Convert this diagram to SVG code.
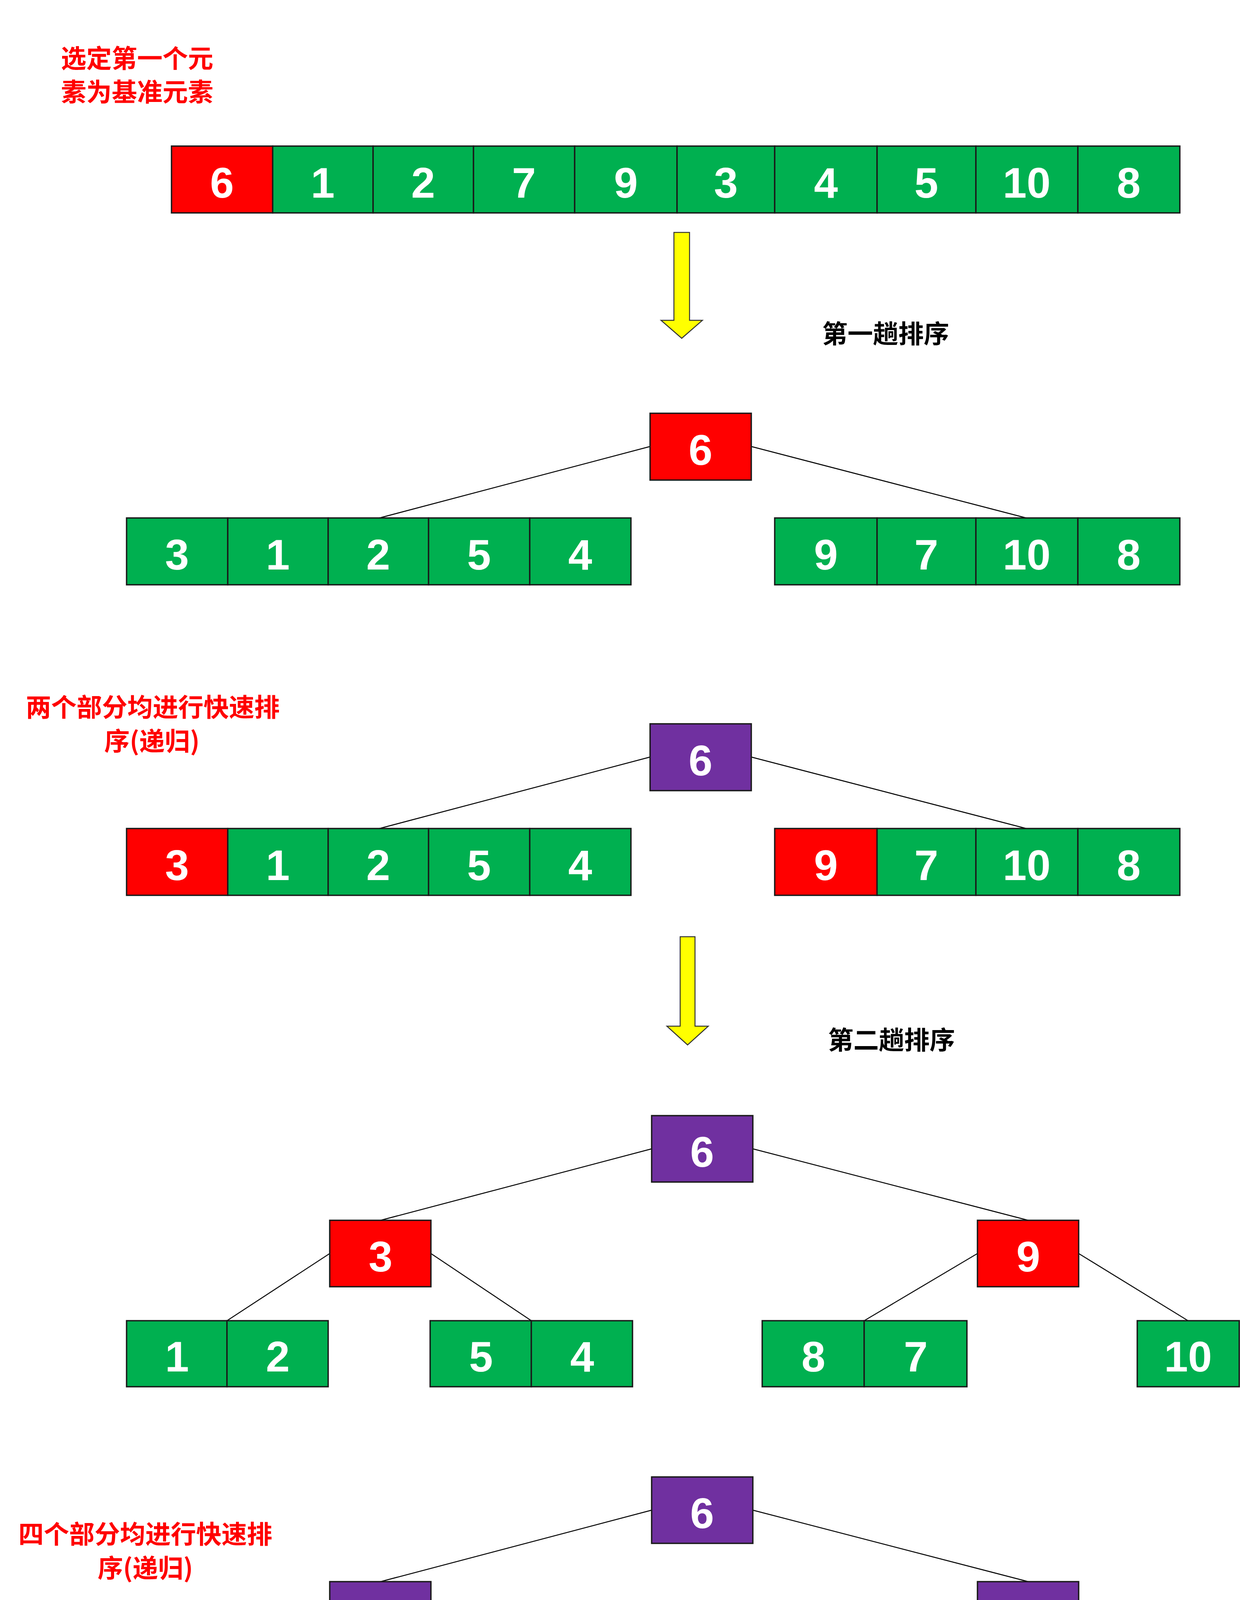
<svg xmlns="http://www.w3.org/2000/svg" width="3174" height="6900" viewBox="0 0 3174 6900">
<style>
.cell rect{stroke:#1a1a1a;stroke-width:3.5}
.r{fill:#FF0000}.g{fill:#00B050}.p{fill:#7030A0}
.n{font-family:"Liberation Sans",Arial,sans-serif;font-weight:bold;font-size:110px;fill:#fff;text-anchor:middle}
.lbl{font-family:"Noto Sans CJK SC","Noto Sans",sans-serif;font-weight:bold;font-size:65px;text-anchor:middle}
.red{fill:#FF0000}.blk{fill:#000}
.conn path{stroke:#000;stroke-width:2.5;fill:none}
.arrow{fill:#FFFF00;stroke:#333;stroke-width:2.5}
</style>

<g id="labels">
<text class="lbl red" x="351" y="173">选定第一个元</text>
<text class="lbl red" x="351" y="259">素为基准元素</text>
<text class="lbl blk" x="2267" y="878">第一趟排序</text>
<text class="lbl red" x="391" y="1834">两个部分均进行快速排</text>
<text class="lbl red" x="389" y="1921">序(递归)</text>
<text class="lbl blk" x="2282" y="2686">第二趟排序</text>
<text class="lbl red" x="372" y="3951">四个部分均进行快速排</text>
<text class="lbl red" x="372" y="4038">序(递归)</text>
<text class="lbl blk" x="2190" y="4824">第三趟排序</text>
<text class="lbl blk" x="2189" y="6134">完成</text>
</g>

<g id="arrows">
<path class="arrow" d="M1725 595 H1765 V820 H1798 L1745 866 L1692 820 H1725 Z"/>
<path class="arrow" d="M1741 2398 H1779 V2627 H1813 L1760 2675 L1707 2627 H1741 Z"/>
<path class="arrow" d="M1741 4656 H1779 V4879 H1813 L1760 4926 L1707 4879 H1741 Z"/>
<path class="arrow" d="M1741 5967 H1779 V6192 H1813 L1760 6237 L1707 6192 H1741 Z"/>
</g>

<g class="conn" id="connectors">
<path d="M1664 1143 L971 1326"/>
<path d="M1923 1143 L2627 1326"/>
<path d="M1664 1938 L971 2121"/>
<path d="M1923 1938 L2627 2121"/>
<path d="M1668 2941 L974 3124"/>
<path d="M1927 2941 L2632 3124"/>
<path d="M844 3209 L581 3381"/>
<path d="M1103 3209 L1360 3381"/>
<path d="M2502 3209 L2212 3381"/>
<path d="M2761 3209 L3041 3381"/>
<path d="M1668 3866 L974 4049"/>
<path d="M1927 3866 L2632 4049"/>
<path d="M844 4134 L581 4304"/>
<path d="M1103 4134 L1360 4304"/>
<path d="M2502 4134 L2212 4304"/>
<path d="M2761 4134 L3041 4304"/>
<path d="M1668 5141 L974 5323"/>
<path d="M1927 5141 L2632 5323"/>
<path d="M844 5409 L581 5580"/>
<path d="M1103 5409 L1360 5580"/>
<path d="M2502 5409 L2212 5580"/>
<path d="M2761 5409 L3041 5580"/>
</g>

<g class="cell">
<!-- Row 0 -->
<g id="a0">
<g id="a0c0"><rect class="r" x="439" y="374" width="259" height="171"/><text class="n" x="568" y="506">6</text></g>
<g id="a0c1"><rect class="g" x="698" y="374" width="257" height="171"/><text class="n" x="826" y="506">1</text></g>
<g id="a0c2"><rect class="g" x="955" y="374" width="257" height="171"/><text class="n" x="1083" y="506">2</text></g>
<g id="a0c3"><rect class="g" x="1212" y="374" width="259" height="171"/><text class="n" x="1341" y="506">7</text></g>
<g id="a0c4"><rect class="g" x="1471" y="374" width="262" height="171"/><text class="n" x="1602" y="506">9</text></g>
<g id="a0c5"><rect class="g" x="1733" y="374" width="250" height="171"/><text class="n" x="1858" y="506">3</text></g>
<g id="a0c6"><rect class="g" x="1983" y="374" width="262" height="171"/><text class="n" x="2114" y="506">4</text></g>
<g id="a0c7"><rect class="g" x="2245" y="374" width="253" height="171"/><text class="n" x="2371" y="506">5</text></g>
<g id="a0c8"><rect class="g" x="2498" y="374" width="261" height="171"/><text class="n" x="2628" y="506">10</text></g>
<g id="a0c9"><rect class="g" x="2759" y="374" width="261" height="171"/><text class="n" x="2889" y="506">8</text></g>
</g>

<!-- Tree 1 -->
<g id="t1root"><rect class="r" x="1664" y="1058" width="259" height="171"/><text class="n" x="1793" y="1190">6</text></g>
<g id="t1L">
<g id="t1L0"><rect class="g" x="324" y="1326" width="259" height="171"/><text class="n" x="453" y="1458">3</text></g>
<g id="t1L1"><rect class="g" x="583" y="1326" width="257" height="171"/><text class="n" x="711" y="1458">1</text></g>
<g id="t1L2"><rect class="g" x="840" y="1326" width="257" height="171"/><text class="n" x="968" y="1458">2</text></g>
<g id="t1L3"><rect class="g" x="1097" y="1326" width="259" height="171"/><text class="n" x="1226" y="1458">5</text></g>
<g id="t1L4"><rect class="g" x="1356" y="1326" width="259" height="171"/><text class="n" x="1485" y="1458">4</text></g>
</g>
<g id="t1R">
<g id="t1R0"><rect class="g" x="1983" y="1326" width="262" height="171"/><text class="n" x="2114" y="1458">9</text></g>
<g id="t1R1"><rect class="g" x="2245" y="1326" width="253" height="171"/><text class="n" x="2371" y="1458">7</text></g>
<g id="t1R2"><rect class="g" x="2498" y="1326" width="261" height="171"/><text class="n" x="2628" y="1458">10</text></g>
<g id="t1R3"><rect class="g" x="2759" y="1326" width="261" height="171"/><text class="n" x="2889" y="1458">8</text></g>
</g>

<!-- Tree 1b -->
<g id="t1broot"><rect class="p" x="1664" y="1853" width="259" height="171"/><text class="n" x="1793" y="1985">6</text></g>
<g id="t1bL">
<g id="t1bL0"><rect class="r" x="324" y="2121" width="259" height="171"/><text class="n" x="453" y="2253">3</text></g>
<g id="t1bL1"><rect class="g" x="583" y="2121" width="257" height="171"/><text class="n" x="711" y="2253">1</text></g>
<g id="t1bL2"><rect class="g" x="840" y="2121" width="257" height="171"/><text class="n" x="968" y="2253">2</text></g>
<g id="t1bL3"><rect class="g" x="1097" y="2121" width="259" height="171"/><text class="n" x="1226" y="2253">5</text></g>
<g id="t1bL4"><rect class="g" x="1356" y="2121" width="259" height="171"/><text class="n" x="1485" y="2253">4</text></g>
</g>
<g id="t1bR">
<g id="t1bR0"><rect class="r" x="1983" y="2121" width="262" height="171"/><text class="n" x="2114" y="2253">9</text></g>
<g id="t1bR1"><rect class="g" x="2245" y="2121" width="253" height="171"/><text class="n" x="2371" y="2253">7</text></g>
<g id="t1bR2"><rect class="g" x="2498" y="2121" width="261" height="171"/><text class="n" x="2628" y="2253">10</text></g>
<g id="t1bR3"><rect class="g" x="2759" y="2121" width="261" height="171"/><text class="n" x="2889" y="2253">8</text></g>
</g>

<!-- Tree 2 -->
<g id="t2root"><rect class="p" x="1668" y="2856" width="259" height="170"/><text class="n" x="1797" y="2987">6</text></g>
<g id="t2m3"><rect class="r" x="844" y="3124" width="259" height="170"/><text class="n" x="974" y="3255">3</text></g>
<g id="t2m9"><rect class="r" x="2502" y="3124" width="259" height="170"/><text class="n" x="2632" y="3255">9</text></g>
<g id="t2l1"><rect class="g" x="324" y="3381" width="257" height="169"/><text class="n" x="453" y="3511">1</text></g>
<g id="t2l2"><rect class="g" x="581" y="3381" width="259" height="169"/><text class="n" x="711" y="3511">2</text></g>
<g id="t2l5"><rect class="g" x="1101" y="3381" width="259" height="169"/><text class="n" x="1231" y="3511">5</text></g>
<g id="t2l4"><rect class="g" x="1360" y="3381" width="259" height="169"/><text class="n" x="1490" y="3511">4</text></g>
<g id="t2l8"><rect class="g" x="1951" y="3381" width="261" height="169"/><text class="n" x="2082" y="3511">8</text></g>
<g id="t2l7"><rect class="g" x="2212" y="3381" width="263" height="169"/><text class="n" x="2344" y="3511">7</text></g>
<g id="t2l10"><rect class="g" x="2911" y="3381" width="261" height="169"/><text class="n" x="3041" y="3511">10</text></g>

<!-- Tree 3 -->
<g id="t3root"><rect class="p" x="1668" y="3781" width="259" height="170"/><text class="n" x="1797" y="3912">6</text></g>
<g id="t3m3"><rect class="p" x="844" y="4049" width="259" height="170"/><text class="n" x="974" y="4180">3</text></g>
<g id="t3m9"><rect class="p" x="2502" y="4049" width="259" height="170"/><text class="n" x="2632" y="4180">9</text></g>
<g id="t3l1"><rect class="r" x="324" y="4304" width="257" height="170"/><text class="n" x="453" y="4435">1</text></g>
<g id="t3l2"><rect class="g" x="581" y="4304" width="259" height="170"/><text class="n" x="711" y="4435">2</text></g>
<g id="t3l5"><rect class="r" x="1101" y="4304" width="259" height="170"/><text class="n" x="1231" y="4435">5</text></g>
<g id="t3l4"><rect class="g" x="1360" y="4304" width="259" height="170"/><text class="n" x="1490" y="4435">4</text></g>
<g id="t3l8"><rect class="r" x="1951" y="4304" width="261" height="170"/><text class="n" x="2082" y="4435">8</text></g>
<g id="t3l7"><rect class="g" x="2212" y="4304" width="263" height="170"/><text class="n" x="2344" y="4435">7</text></g>
<g id="t3l10"><rect class="r" x="2911" y="4304" width="261" height="170"/><text class="n" x="3041" y="4435">10</text></g>

<!-- Tree 4 -->
<g id="t4root"><rect class="p" x="1668" y="5056" width="259" height="170"/><text class="n" x="1797" y="5187">6</text></g>
<g id="t4m3"><rect class="p" x="844" y="5323" width="259" height="172"/><text class="n" x="974" y="5455">3</text></g>
<g id="t4m9"><rect class="p" x="2502" y="5323" width="259" height="172"/><text class="n" x="2632" y="5455">9</text></g>
<g id="t4l1"><rect class="r" x="324" y="5580" width="257" height="170"/><text class="n" x="453" y="5711">1</text></g>
<g id="t4l2"><rect class="g" x="581" y="5580" width="259" height="170"/><text class="n" x="711" y="5711">2</text></g>
<g id="t4l4"><rect class="g" x="1101" y="5580" width="259" height="170"/><text class="n" x="1231" y="5711">4</text></g>
<g id="t4l5"><rect class="r" x="1360" y="5580" width="259" height="170"/><text class="n" x="1490" y="5711">5</text></g>
<g id="t4l7"><rect class="g" x="1951" y="5580" width="261" height="170"/><text class="n" x="2082" y="5711">7</text></g>
<g id="t4l8"><rect class="r" x="2212" y="5580" width="263" height="170"/><text class="n" x="2344" y="5711">8</text></g>
<g id="t4l10"><rect class="r" x="2911" y="5580" width="261" height="170"/><text class="n" x="3041" y="5711">10</text></g>

<!-- Final row A -->
<g id="fa">
<g id="fa1"><rect class="r" x="370" y="6314" width="257" height="173"/><text class="n" x="499" y="6446">1</text></g>
<g id="fa2"><rect class="g" x="627" y="6314" width="259" height="173"/><text class="n" x="757" y="6446">2</text></g>
<g id="fa3"><rect class="p" x="886" y="6314" width="251" height="173"/><text class="n" x="1012" y="6446">3</text></g>
<g id="fa4"><rect class="g" x="1137" y="6314" width="264" height="173"/><text class="n" x="1269" y="6446">4</text></g>
<g id="fa5"><rect class="r" x="1405" y="6314" width="261" height="173"/><text class="n" x="1536" y="6446">5</text></g>
<g id="fa6"><rect class="p" x="1666" y="6314" width="237" height="173"/><text class="n" x="1785" y="6446">6</text></g>
<g id="fa7"><rect class="g" x="1903" y="6314" width="263" height="173"/><text class="n" x="2035" y="6446">7</text></g>
<g id="fa8"><rect class="r" x="2166" y="6314" width="261" height="173"/><text class="n" x="2297" y="6446">8</text></g>
<g id="fa9"><rect class="p" x="2427" y="6314" width="263" height="173"/><text class="n" x="2559" y="6446">9</text></g>
<g id="fa10"><rect class="r" x="2690" y="6314" width="261" height="173"/><text class="n" x="2821" y="6446">10</text></g>
</g>

<!-- Final row B -->
<g id="fb">
<g id="fb1"><rect class="p" x="370" y="6727" width="257" height="171"/><text class="n" x="499" y="6859">1</text></g>
<g id="fb2"><rect class="p" x="627" y="6727" width="259" height="171"/><text class="n" x="757" y="6859">2</text></g>
<g id="fb3"><rect class="p" x="886" y="6727" width="251" height="171"/><text class="n" x="1012" y="6859">3</text></g>
<g id="fb4"><rect class="p" x="1137" y="6727" width="255" height="171"/><text class="n" x="1265" y="6859">4</text></g>
<g id="fb5"><rect class="p" x="1392" y="6727" width="263" height="171"/><text class="n" x="1524" y="6859">5</text></g>
<g id="fb6"><rect class="p" x="1655" y="6727" width="248" height="171"/><text class="n" x="1779" y="6859">6</text></g>
<g id="fb7"><rect class="p" x="1903" y="6727" width="263" height="171"/><text class="n" x="2035" y="6859">7</text></g>
<g id="fb8"><rect class="p" x="2166" y="6727" width="261" height="171"/><text class="n" x="2297" y="6859">8</text></g>
<g id="fb9"><rect class="p" x="2427" y="6727" width="263" height="171"/><text class="n" x="2559" y="6859">9</text></g>
<g id="fb10"><rect class="p" x="2690" y="6727" width="261" height="171"/><text class="n" x="2821" y="6859">10</text></g>
</g>
</g>

<text x="2920" y="6889" font-family="Liberation Sans,Arial,sans-serif" font-size="19" fill="#d8cce6" textLength="34" lengthAdjust="spacingAndGlyphs">https</text>
</svg>
